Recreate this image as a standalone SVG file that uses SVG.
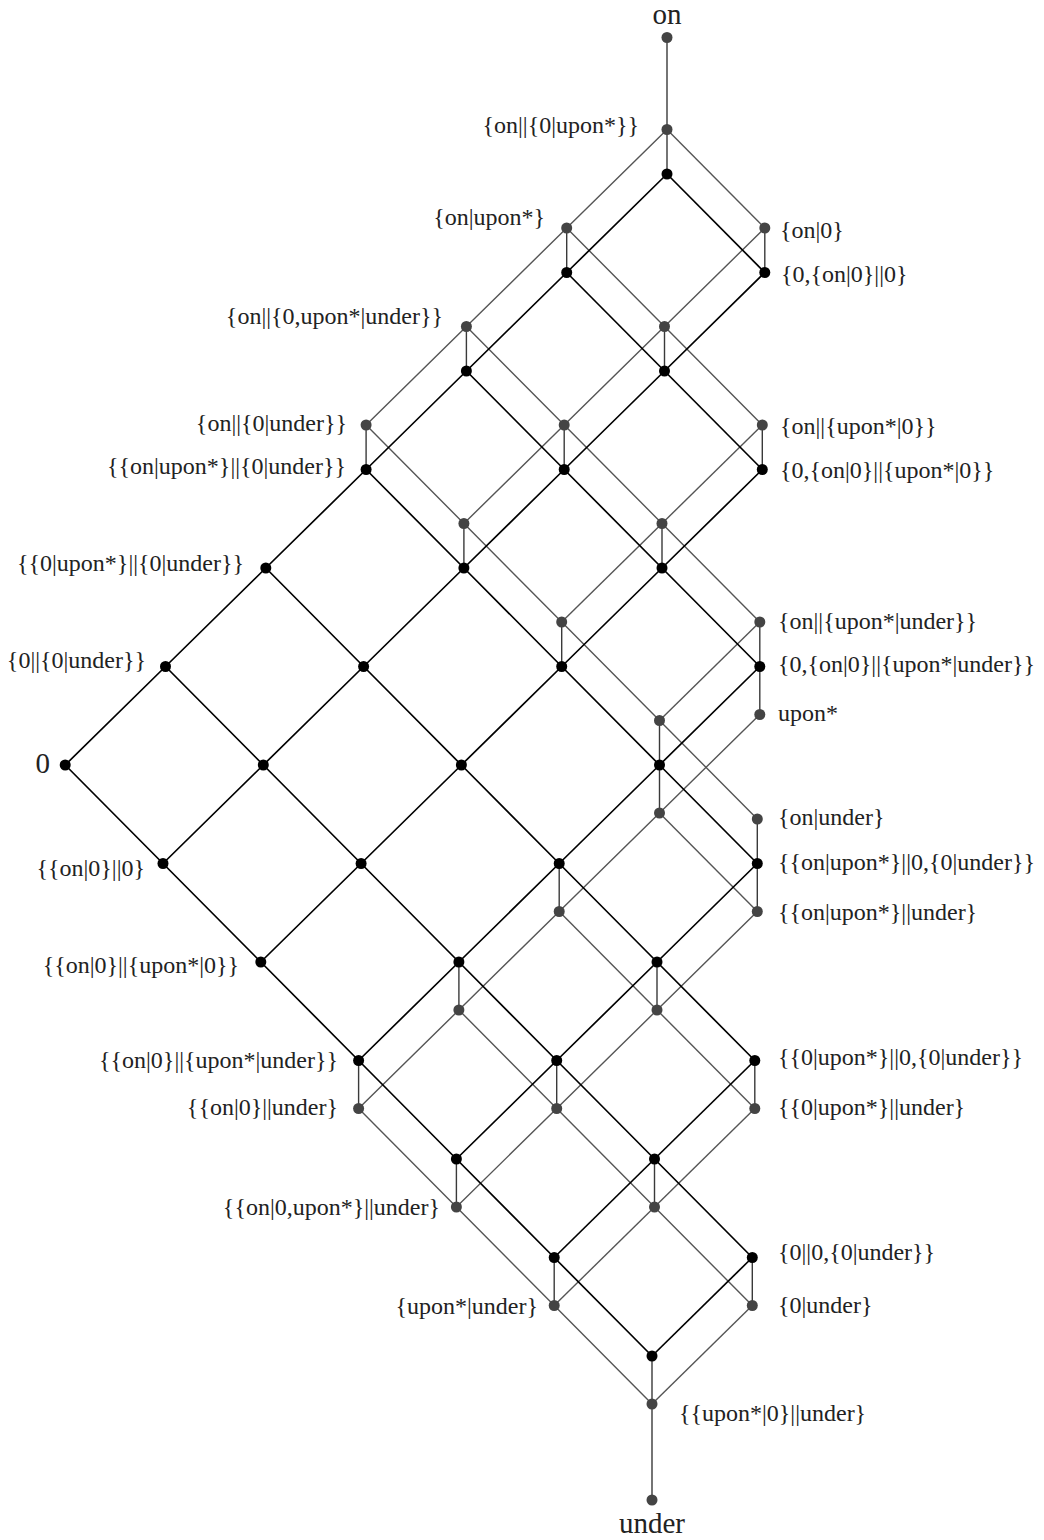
<svg xmlns="http://www.w3.org/2000/svg" width="1044" height="1540" viewBox="0 0 1044 1540">
<style>
.bg{fill:#fff}
.eb{stroke:#000;stroke-width:1.7;fill:none}
.eg{stroke:#555;stroke-width:1.4;fill:none}
.ev{stroke:#3a3a3a;stroke-width:1.4;fill:none}
.nb{fill:#000}
.ng{fill:#444}
text{font-family:"Liberation Serif","Times New Roman",serif;font-size:24px;fill:#222}
.big{font-size:29px}
.l{text-anchor:end}
.r{text-anchor:start}
.m{text-anchor:middle}
</style>
<rect class="bg" x="0" y="0" width="1044" height="1540"/>
<g id="connectors">
<!-- upper gray lattice -->
<polyline class="eg" points="667,129.5 566.7,228 466.4,326.5 366.1,425"/>
<polyline class="eg" points="764.8,228 664.5,326.5 564.2,425 463.9,523.5"/>
<polyline class="eg" points="762.3,425 662,523.5 561.7,622"/>
<polyline class="eg" points="759.8,622 659.5,720.5"/>
<polyline class="eg" points="667,129.5 764.8,228"/>
<polyline class="eg" points="566.7,228 664.5,326.5 762.3,425"/>
<polyline class="eg" points="466.4,326.5 564.2,425 662,523.5 759.8,622"/>
<polyline class="eg" points="366.1,425 463.9,523.5 561.7,622 659.5,720.5 757.3,819"/>
<!-- lower gray lattice -->
<polyline class="eg" points="759.8,714.5 659.5,813 559.2,911.5 458.9,1010 358.6,1108.5"/>
<polyline class="eg" points="757.3,911.5 657,1010 556.7,1108.5 456.4,1207"/>
<polyline class="eg" points="754.8,1108.5 654.5,1207 554.2,1305.5"/>
<polyline class="eg" points="752.3,1305.5 652,1404"/>
<polyline class="eg" points="659.5,813 757.3,911.5"/>
<polyline class="eg" points="559.2,911.5 657,1010 754.8,1108.5"/>
<polyline class="eg" points="458.9,1010 556.7,1108.5 654.5,1207 752.3,1305.5"/>
<polyline class="eg" points="358.6,1108.5 456.4,1207 554.2,1305.5 652,1404"/>
<!-- black lattice -->
<polyline class="eb" points="667,174 566.7,272.5 466.4,371 366.1,469.5 265.8,568 165.5,666.5 65.2,765"/>
<polyline class="eb" points="764.8,272.5 664.5,371 564.2,469.5 463.9,568 363.6,666.5 263.3,765 163,863.5"/>
<polyline class="eb" points="762.3,469.5 662,568 561.7,666.5 461.4,765 361.1,863.5 260.8,962"/>
<polyline class="eb" points="759.8,666.5 659.5,765 559.2,863.5 458.9,962 358.6,1060.5"/>
<polyline class="eb" points="757.3,863.5 657,962 556.7,1060.5 456.4,1159"/>
<polyline class="eb" points="754.8,1060.5 654.5,1159 554.2,1257.5"/>
<polyline class="eb" points="752.3,1257.5 652,1356"/>
<polyline class="eb" points="667,174 764.8,272.5"/>
<polyline class="eb" points="566.7,272.5 664.5,371 762.3,469.5"/>
<polyline class="eb" points="466.4,371 564.2,469.5 662,568 759.8,666.5"/>
<polyline class="eb" points="366.1,469.5 463.9,568 561.7,666.5 659.5,765 757.3,863.5"/>
<polyline class="eb" points="265.8,568 363.6,666.5 461.4,765 559.2,863.5 657,962 754.8,1060.5"/>
<polyline class="eb" points="165.5,666.5 263.3,765 361.1,863.5 458.9,962 556.7,1060.5 654.5,1159 752.3,1257.5"/>
<polyline class="eb" points="65.2,765 163,863.5 260.8,962 358.6,1060.5 456.4,1159 554.2,1257.5 652,1356"/>
<!-- verticals -->
<line class="ev" x1="667" y1="37.5" x2="667" y2="129.5"/>
<line class="ev" x1="667" y1="129.5" x2="667" y2="174"/>
<line class="ev" x1="764.8" y1="228" x2="764.8" y2="272.5"/>
<line class="ev" x1="566.7" y1="228" x2="566.7" y2="272.5"/>
<line class="ev" x1="664.5" y1="326.5" x2="664.5" y2="371"/>
<line class="ev" x1="762.3" y1="425" x2="762.3" y2="469.5"/>
<line class="ev" x1="466.4" y1="326.5" x2="466.4" y2="371"/>
<line class="ev" x1="564.2" y1="425" x2="564.2" y2="469.5"/>
<line class="ev" x1="662" y1="523.5" x2="662" y2="568"/>
<line class="ev" x1="759.8" y1="622" x2="759.8" y2="666.5"/>
<line class="ev" x1="366.1" y1="425" x2="366.1" y2="469.5"/>
<line class="ev" x1="463.9" y1="523.5" x2="463.9" y2="568"/>
<line class="ev" x1="561.7" y1="622" x2="561.7" y2="666.5"/>
<line class="ev" x1="659.5" y1="720.5" x2="659.5" y2="765"/>
<line class="ev" x1="757.3" y1="819" x2="757.3" y2="863.5"/>
<line class="ev" x1="759.8" y1="666.5" x2="759.8" y2="714.5"/>
<line class="ev" x1="659.5" y1="765" x2="659.5" y2="813"/>
<line class="ev" x1="757.3" y1="863.5" x2="757.3" y2="911.5"/>
<line class="ev" x1="559.2" y1="863.5" x2="559.2" y2="911.5"/>
<line class="ev" x1="657" y1="962" x2="657" y2="1010"/>
<line class="ev" x1="754.8" y1="1060.5" x2="754.8" y2="1108.5"/>
<line class="ev" x1="458.9" y1="962" x2="458.9" y2="1010"/>
<line class="ev" x1="556.7" y1="1060.5" x2="556.7" y2="1108.5"/>
<line class="ev" x1="654.5" y1="1159" x2="654.5" y2="1207"/>
<line class="ev" x1="752.3" y1="1257.5" x2="752.3" y2="1305.5"/>
<line class="ev" x1="358.6" y1="1060.5" x2="358.6" y2="1108.5"/>
<line class="ev" x1="456.4" y1="1159" x2="456.4" y2="1207"/>
<line class="ev" x1="554.2" y1="1257.5" x2="554.2" y2="1305.5"/>
<line class="ev" x1="652" y1="1356" x2="652" y2="1404"/>
<line class="ev" x1="652" y1="1404" x2="652" y2="1500"/>
</g>
<g id="nodes">
<g id="on"><circle class="ng" cx="667" cy="37.5" r="5.5"/><text class="big m" x="667" y="24">on</text></g>
<g id="under"><circle class="ng" cx="652" cy="1500" r="5.5"/><text class="big m" x="652" y="1533">under</text></g>
<!-- upper gray -->
<g id="u00"><circle class="ng" cx="667" cy="129.5" r="5.5"/><text class="l" x="639" y="133">{on||{0|upon*}}</text></g>
<g id="u01"><circle class="ng" cx="764.8" cy="228" r="5.5"/><text class="r" x="780" y="238">{on|0}</text></g>
<g id="u10"><circle class="ng" cx="566.7" cy="228" r="5.5"/><text class="l" x="545" y="225">{on|upon*}</text></g>
<g id="u11"><circle class="ng" cx="664.5" cy="326.5" r="5.5"/></g>
<g id="u12"><circle class="ng" cx="762.3" cy="425" r="5.5"/><text class="r" x="780" y="434">{on||{upon*|0}}</text></g>
<g id="u20"><circle class="ng" cx="466.4" cy="326.5" r="5.5"/><text class="l" x="443" y="324">{on||{0,upon*|under}}</text></g>
<g id="u21"><circle class="ng" cx="564.2" cy="425" r="5.5"/></g>
<g id="u22"><circle class="ng" cx="662" cy="523.5" r="5.5"/></g>
<g id="u23"><circle class="ng" cx="759.8" cy="622" r="5.5"/><text class="r" x="778" y="629">{on||{upon*|under}}</text></g>
<g id="u30"><circle class="ng" cx="366.1" cy="425" r="5.5"/><text class="l" x="347" y="431">{on||{0|under}}</text></g>
<g id="u31"><circle class="ng" cx="463.9" cy="523.5" r="5.5"/></g>
<g id="u32"><circle class="ng" cx="561.7" cy="622" r="5.5"/></g>
<g id="u33"><circle class="ng" cx="659.5" cy="720.5" r="5.5"/></g>
<g id="u34"><circle class="ng" cx="757.3" cy="819" r="5.5"/><text class="r" x="778" y="825">{on|under}</text></g>
<!-- black -->
<g id="b00"><circle class="nb" cx="667" cy="174" r="5.5"/></g>
<g id="b01"><circle class="nb" cx="764.8" cy="272.5" r="5.5"/><text class="r" x="781" y="282">{0,{on|0}||0}</text></g>
<g id="b10"><circle class="nb" cx="566.7" cy="272.5" r="5.5"/></g>
<g id="b11"><circle class="nb" cx="664.5" cy="371" r="5.5"/></g>
<g id="b12"><circle class="nb" cx="762.3" cy="469.5" r="5.5"/><text class="r" x="780" y="478">{0,{on|0}||{upon*|0}}</text></g>
<g id="b20"><circle class="nb" cx="466.4" cy="371" r="5.5"/></g>
<g id="b21"><circle class="nb" cx="564.2" cy="469.5" r="5.5"/></g>
<g id="b22"><circle class="nb" cx="662" cy="568" r="5.5"/></g>
<g id="b23"><circle class="nb" cx="759.8" cy="666.5" r="5.5"/><text class="r" x="778" y="672">{0,{on|0}||{upon*|under}}</text></g>
<g id="b30"><circle class="nb" cx="366.1" cy="469.5" r="5.5"/><text class="l" x="346" y="474">{{on|upon*}||{0|under}}</text></g>
<g id="b31"><circle class="nb" cx="463.9" cy="568" r="5.5"/></g>
<g id="b32"><circle class="nb" cx="561.7" cy="666.5" r="5.5"/></g>
<g id="b33"><circle class="nb" cx="659.5" cy="765" r="5.5"/></g>
<g id="b34"><circle class="nb" cx="757.3" cy="863.5" r="5.5"/><text class="r" x="778" y="870">{{on|upon*}||0,{0|under}}</text></g>
<g id="b40"><circle class="nb" cx="265.8" cy="568" r="5.5"/><text class="l" x="244" y="571">{{0|upon*}||{0|under}}</text></g>
<g id="b41"><circle class="nb" cx="363.6" cy="666.5" r="5.5"/></g>
<g id="b42"><circle class="nb" cx="461.4" cy="765" r="5.5"/></g>
<g id="b43"><circle class="nb" cx="559.2" cy="863.5" r="5.5"/></g>
<g id="b44"><circle class="nb" cx="657" cy="962" r="5.5"/></g>
<g id="b45"><circle class="nb" cx="754.8" cy="1060.5" r="5.5"/><text class="r" x="778" y="1065">{{0|upon*}||0,{0|under}}</text></g>
<g id="b50"><circle class="nb" cx="165.5" cy="666.5" r="5.5"/><text class="l" x="146" y="668">{0||{0|under}}</text></g>
<g id="b51"><circle class="nb" cx="263.3" cy="765" r="5.5"/></g>
<g id="b52"><circle class="nb" cx="361.1" cy="863.5" r="5.5"/></g>
<g id="b53"><circle class="nb" cx="458.9" cy="962" r="5.5"/></g>
<g id="b54"><circle class="nb" cx="556.7" cy="1060.5" r="5.5"/></g>
<g id="b55"><circle class="nb" cx="654.5" cy="1159" r="5.5"/></g>
<g id="b56"><circle class="nb" cx="752.3" cy="1257.5" r="5.5"/><text class="r" x="778" y="1260">{0||0,{0|under}}</text></g>
<g id="b60"><circle class="nb" cx="65.2" cy="765" r="5.5"/><text class="big l" x="50" y="773">0</text></g>
<g id="b61"><circle class="nb" cx="163" cy="863.5" r="5.5"/><text class="l" x="145" y="876">{{on|0}||0}</text></g>
<g id="b62"><circle class="nb" cx="260.8" cy="962" r="5.5"/><text class="l" x="239" y="973">{{on|0}||{upon*|0}}</text></g>
<g id="b63"><circle class="nb" cx="358.6" cy="1060.5" r="5.5"/><text class="l" x="338" y="1068">{{on|0}||{upon*|under}}</text></g>
<g id="b64"><circle class="nb" cx="456.4" cy="1159" r="5.5"/></g>
<g id="b65"><circle class="nb" cx="554.2" cy="1257.5" r="5.5"/></g>
<g id="b66"><circle class="nb" cx="652" cy="1356" r="5.5"/></g>
<!-- lower gray -->
<g id="l23"><circle class="ng" cx="759.8" cy="714.5" r="5.5"/><text class="r" x="778" y="721">upon*</text></g>
<g id="l33"><circle class="ng" cx="659.5" cy="813" r="5.5"/></g>
<g id="l34"><circle class="ng" cx="757.3" cy="911.5" r="5.5"/><text class="r" x="778" y="920">{{on|upon*}||under}</text></g>
<g id="l43"><circle class="ng" cx="559.2" cy="911.5" r="5.5"/></g>
<g id="l44"><circle class="ng" cx="657" cy="1010" r="5.5"/></g>
<g id="l45"><circle class="ng" cx="754.8" cy="1108.5" r="5.5"/><text class="r" x="778" y="1115">{{0|upon*}||under}</text></g>
<g id="l53"><circle class="ng" cx="458.9" cy="1010" r="5.5"/></g>
<g id="l54"><circle class="ng" cx="556.7" cy="1108.5" r="5.5"/></g>
<g id="l55"><circle class="ng" cx="654.5" cy="1207" r="5.5"/></g>
<g id="l56"><circle class="ng" cx="752.3" cy="1305.5" r="5.5"/><text class="r" x="778" y="1313">{0|under}</text></g>
<g id="l63"><circle class="ng" cx="358.6" cy="1108.5" r="5.5"/><text class="l" x="338" y="1115">{{on|0}||under}</text></g>
<g id="l64"><circle class="ng" cx="456.4" cy="1207" r="5.5"/><text class="l" x="440" y="1215">{{on|0,upon*}||under}</text></g>
<g id="l65"><circle class="ng" cx="554.2" cy="1305.5" r="5.5"/><text class="l" x="538" y="1314">{upon*|under}</text></g>
<g id="l66"><circle class="ng" cx="652" cy="1404" r="5.5"/><text class="r" x="679" y="1421">{{upon*|0}||under}</text></g>
</g>
</svg>
